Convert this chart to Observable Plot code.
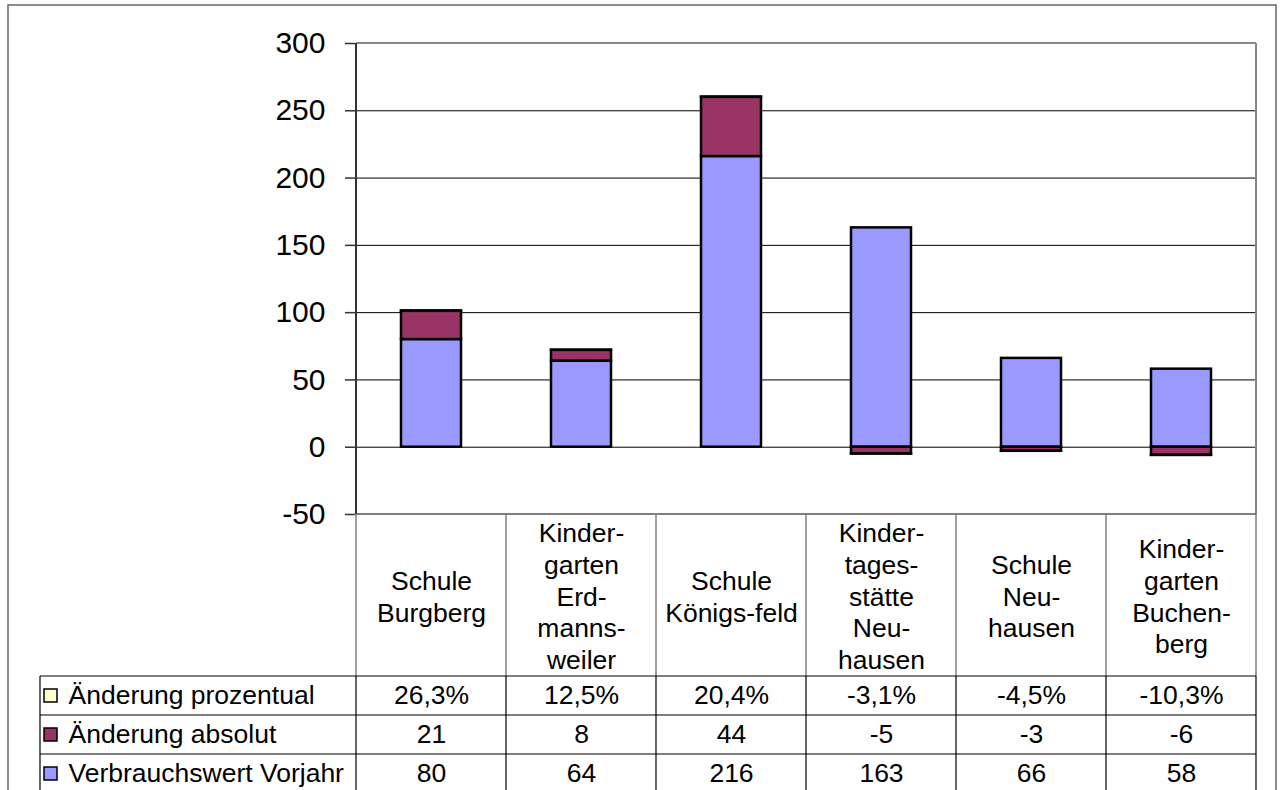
<!DOCTYPE html>
<html>
<head>
<meta charset="utf-8">
<script src="https://cdn.jsdelivr.net/npm/d3@7"></script>
<script src="https://cdn.jsdelivr.net/npm/@observablehq/plot@0.6"></script>
<style>
  html, body { margin: 0; padding: 0; background: #fff; }
  svg { display: block; }
</style>
</head>
<body>
<div id="chart"></div>
<script>
const categories = ["Schule Burgberg", "Kindergarten Erdmannsweiler", "Schule Königsfeld", "Kindertagesstätte Neuhausen", "Schule Neuhausen", "Kindergarten Buchenberg"];
const categoryLabels = ["Schule\nBurgberg", "Kinder-\ngarten\nErd-\nmanns-\nweiler", "Schule\nKönigs-feld", "Kinder-\ntages-\nstätte\nNeu-\nhausen", "Schule\nNeu-\nhausen", "Kinder-\ngarten\nBuchen-\nberg"];
const series = ["Verbrauchswert Vorjahr", "Änderung absolut", "Änderung prozentual"];
const verbrauchVorjahr = [80, 64, 216, 163, 66, 58];
const aenderungAbsolut = [21, 8, 44, -5, -3, -6];
const aenderungProzentual = [0.263, 0.125, 0.204, -0.031, -0.045, -0.103];
const seriesColors = ["#9999FF", "#993366", "#FFFFCC"];
const yTicks = [-50, 0, 50, 100, 150, 200, 250, 300];
const gridTicks = [0, 50, 100, 150, 200, 250];

const seriesValues = [verbrauchVorjahr, aenderungAbsolut, aenderungProzentual];
const data = [];
series.forEach((s, si) => categories.forEach((c, ci) => data.push({series: s, category: c, value: seriesValues[si][ci]})));

const fmtPct = v => (v * 100).toFixed(1).replace(".", ",") + "%";
const fmtNum = v => String(v);
// table rows shown top to bottom
const tableRows = [
  {series: series[2], values: aenderungProzentual.map(fmtPct)},
  {series: series[1], values: aenderungAbsolut.map(fmtNum)},
  {series: series[0], values: verbrauchVorjahr.map(fmtNum)}
];

const FONT = "'Liberation Sans', Arial, sans-serif";
const catRowH = 162, rowH = 39;
const FS = 26.5;

const textMarks = [];
// category labels
textMarks.push(Plot.text(categories, {
  x: d => d, y: () => -50, text: (d, i) => categoryLabels[i],
  dy: catRowH / 2, lineHeight: 1.2, fontSize: FS, fill: "black"
}));
tableRows.forEach((row, r) => {
  const dy = catRowH + r * rowH + rowH / 2;
  textMarks.push(Plot.text(categories, {
    x: d => d, y: () => -50, text: (d, i) => row.values[i],
    dy, fontSize: FS, fill: "black"
  }));
  textMarks.push(Plot.text([row.series], {
    frameAnchor: "left", y: () => -50, text: d => d,
    dx: 68 - 355, dy, textAnchor: "start", fontSize: FS, fill: "black"
  }));
});

const plot = Plot.plot({
  width: 1280,
  height: 790,
  marginLeft: 355,
  marginRight: 23,
  marginTop: 43,
  marginBottom: 276,
  style: {fontFamily: FONT, fontSize: "26px", color: "black", background: "white"},
  x: {domain: categories, paddingInner: 0.6, paddingOuter: 0.3, axis: null},
  y: {domain: [-50, 300], axis: null},
  color: {domain: series, range: seriesColors},
  marks: [
    Plot.gridY(gridTicks, {stroke: "black", strokeOpacity: 1, strokeWidth: 1}),
    Plot.axisY(yTicks, {tickSize: 10, tickPadding: 20, fontSize: 30, stroke: "#333", strokeWidth: 1.5, fill: "black", label: null, tickFormat: d => String(d)}),
    Plot.barY(data, {x: "category", y: "value", fill: "series", stroke: "black", strokeWidth: 2.5}),
    ...textMarks
  ]
});
document.getElementById("chart").appendChild(plot);

// table lines and frame using the plot's scales
const svg = d3.select(plot);
const xs = plot.scale("x");
const ys = plot.scale("y");
const gap = xs.step - xs.bandwidth;
const colLeft = i => xs.apply(categories[i]) - gap / 2;
const left = colLeft(0);
const right = colLeft(categories.length - 1) + xs.step;
const yTop = ys.apply(300);
const yBot = ys.apply(-50);
const catBot = yBot + catRowH;
const g = svg.append("g");

function line(x1, y1, x2, y2, stroke, w) {
  g.append("line").attr("x1", x1).attr("y1", y1).attr("x2", x2).attr("y2", y2)
    .attr("stroke", stroke).attr("stroke-width", w);
}
// plot area top & right border
line(left, yTop, right, yTop, "#888", 2);
line(right, yTop, right, yBot, "#888", 2);
// category row
line(left, yBot, right, yBot, "#555", 1.5);
for (let i = 0; i <= categories.length; i++) {
  const x = i < categories.length ? colLeft(i) : right;
  line(x, yBot, x, catBot, "#808080", 1.5);
}
// data rows
for (let r = 0; r <= tableRows.length; r++) {
  const y = catBot + r * rowH;
  line(40, y, right, y, "black", 1.2);
}
line(40, catBot, 40, 800, "black", 1.2);
for (let i = 0; i <= categories.length; i++) {
  const x = i < categories.length ? colLeft(i) : right;
  line(x, catBot, x, 800, "black", 1.2);
}
// value axis line
line(left, yTop, left, yBot, "#333", 2);
// legend keys
tableRows.forEach((row, r) => {
  const cy = catBot + r * rowH + rowH / 2;
  g.append("rect").attr("x", 44).attr("y", cy - 6.5).attr("width", 13).attr("height", 13)
    .attr("fill", plot.scale("color").apply(row.series)).attr("stroke", "black").attr("stroke-width", 1.5);
});
// outer chart border
g.append("rect").attr("x", 8).attr("y", 5).attr("width", 1268).attr("height", 820)
  .attr("fill", "none").attr("stroke", "#666").attr("stroke-width", 1.5);
</script>
</body>
</html>
